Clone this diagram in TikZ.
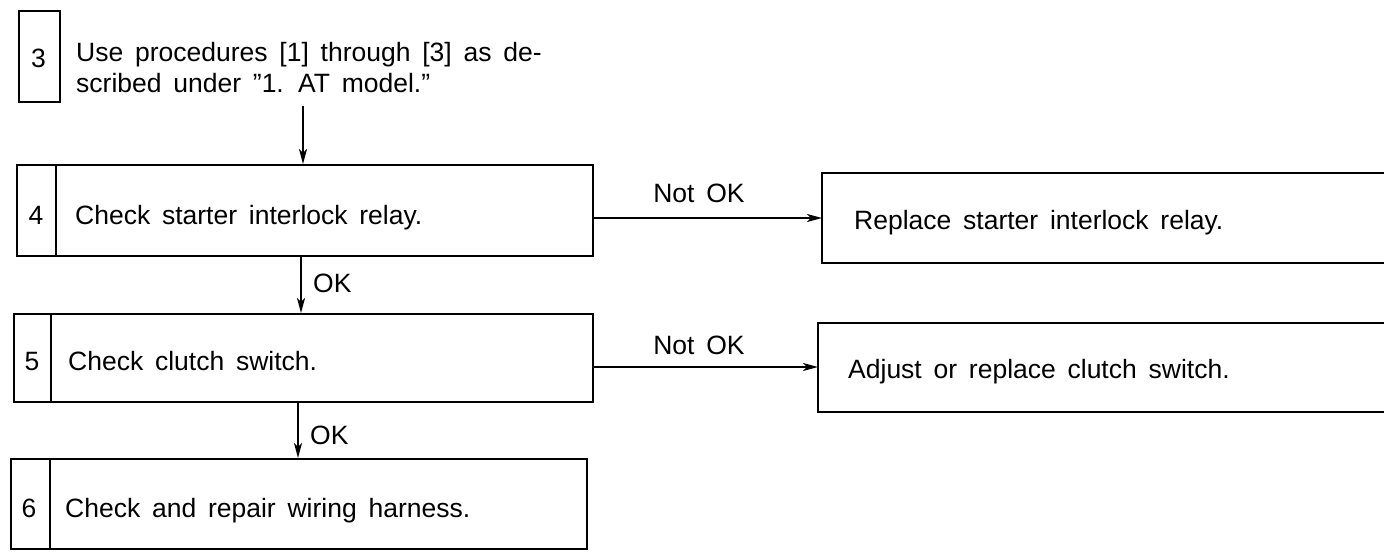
\documentclass[tikz,border=0pt]{standalone}
\usepackage{fontspec}
\setmainfont[WordSpace=1.6]{Liberation Sans}
\usetikzlibrary{arrows.meta}
\begin{document}
\begin{tikzpicture}[x=1pt,y=-1pt,
  every node/.style={font=\fontsize{26.5}{31}\selectfont, inner sep=0pt},
  stepbox/.style={draw, line width=2pt, anchor=north west, inner sep=0pt},
  openbox/.style={anchor=north west, inner sep=0pt},
  num/.style={anchor=base},
  txt/.style={anchor=base west},
  ln/.style={line width=2pt},
  arr/.style={line width=1.7pt, -{Stealth[length=15pt,width=8pt,inset=4pt]}}]
\useasboundingbox (0,0) rectangle (1384,552);
\fill[white] (0,0) rectangle (1384,552);
\clip (0,0) rectangle (1384,552);

% step 3
\node[stepbox, minimum width=41pt, minimum height=91pt] (b3) at (18,10) {};
\node[num] (n3) at (38.5,67) {3};
\node[txt] (t3a) at (76,61) {Use procedures [1] through [3] as de-};
\node[txt] (t3b) at (76,92) {scribed under ''1. AT model.''};

% step 4
\node[stepbox, minimum width=576pt, minimum height=91pt] (b4) at (16,164) {};
\draw[ln] ([xshift=40pt]b4.north west) -- ([xshift=40pt]b4.south west);
\node[num] (n4) at (36,224) {4};
\node[txt] (t4) at (75,224) {Check starter interlock relay.};

% step 5
\node[stepbox, minimum width=579pt, minimum height=88pt] (b5) at (13,313) {};
\draw[ln] ([xshift=38pt]b5.north west) -- ([xshift=38pt]b5.south west);
\node[num] (n5) at (32,370) {5};
\node[txt] (t5) at (68,370) {Check clutch switch.};

% step 6
\node[stepbox, minimum width=576pt, minimum height=90pt] (b6) at (10,458) {};
\draw[ln] ([xshift=40pt]b6.north west) -- ([xshift=40pt]b6.south west);
\node[num] (n6) at (29,517) {6};
\node[txt] (t6) at (65,517) {Check and repair wiring harness.};

% right boxes (open to the right edge)
\node[openbox, minimum width=562pt, minimum height=90pt] (r1) at (822,173) {};
\draw[ln] (r1.north east) -- (r1.north west) -- (r1.south west) -- (r1.south east);
\node[txt] (tr1) at (854,229) {Replace starter interlock relay.};

\node[openbox, minimum width=566pt, minimum height=89pt] (r2) at (818,323) {};
\draw[ln] (r2.north east) -- (r2.north west) -- (r2.south west) -- (r2.south east);
\node[txt] (tr2) at (848,378) {Adjust or replace clutch switch.};

% connectors
\coordinate (s3) at (303,106);
\draw[arr] (s3) -- (s3 |- b4.north);
\coordinate (x45) at (301,0);
\draw[arr] (x45 |- b4.south) -- (x45 |- b5.north);
\coordinate (x56) at (298,0);
\draw[arr] (x56 |- b5.south) -- (x56 |- b6.north);
\coordinate (y1) at (0,218);
\draw[arr] (b4.east |- y1) -- (r1.west |- y1);
\coordinate (y2) at (0,367);
\draw[arr] (b5.east |- y2) -- (r2.west |- y2);

% labels
\node[anchor=west] (ok1) at (313,283) {OK};
\node[anchor=west] (ok2) at (310,435) {OK};
\node (nok1) at (699,193) {Not OK};
\node (nok2) at (699,345) {Not OK};
\end{tikzpicture}
\end{document}
